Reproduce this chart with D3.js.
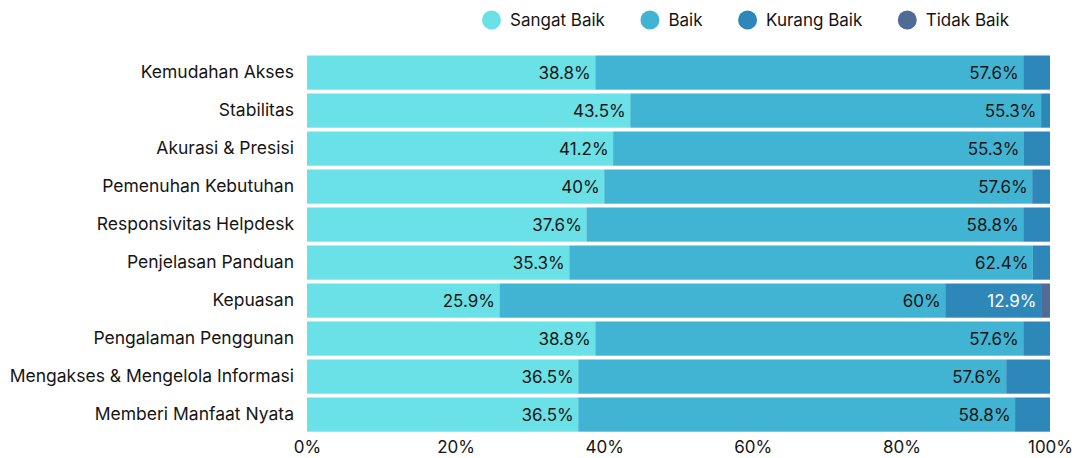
<!DOCTYPE html>
<html>
<head>
<meta charset="utf-8">
<script src="https://cdn.jsdelivr.net/npm/d3@7"></script>
<style>
  body { margin: 0; background: #fff; }
  svg text { font-family: Inter, "Noto Sans", sans-serif; fill: #151515; }
</style>
</head>
<body>
<div id="chart"></div>
<script>
// 100% stacked bar chart - survey results

const categories = [
  "Kemudahan Akses", "Stabilitas", "Akurasi & Presisi", "Pemenuhan Kebutuhan",
  "Responsivitas Helpdesk", "Penjelasan Panduan", "Kepuasan", "Pengalaman Penggunan",
  "Mengakses & Mengelola Informasi", "Memberi Manfaat Nyata"
];
const seriesNames = ["Sangat Baik", "Baik", "Kurang Baik", "Tidak Baik"];
const sangatBaik = [38.8, 43.5, 41.2, 40, 37.6, 35.3, 25.9, 38.8, 36.5, 36.5];
const baik       = [57.6, 55.3, 55.3, 57.6, 58.8, 62.4, 60, 57.6, 57.6, 58.8];
const kurangBaik = [3.6, 1.2, 3.5, 2.4, 3.6, 2.3, 12.9, 3.6, 5.9, 4.7];
const tidakBaik  = [0, 0, 0, 0, 0, 0, 1.2, 0, 0, 0];
const xTicks = [0, 20, 40, 60, 80, 100];

const colors = ["#6ae1e6", "#42b4d3", "#2e87b9", "#506b96"];

const [W, H] = [1079, 458];
const left = 307, right = 1050;

const rows = categories.map((c, i) => ({
  cat: c,
  "Sangat Baik": sangatBaik[i],
  "Baik": baik[i],
  "Kurang Baik": kurangBaik[i],
  "Tidak Baik": tidakBaik[i]
}));

const stacked = d3.stack().keys(seriesNames)(rows);

const x = d3.scaleLinear().domain([0, 100]).range([left, right]);
const y = d3.scaleBand().domain(categories).range([53.6, 433.6])
  .paddingInner(0.1).paddingOuter(0.05);
const color = d3.scaleOrdinal().domain(seriesNames).range(colors);

const svg = d3.select("#chart").append("svg")
  .attr("width", W).attr("height", H);

// bars
const groups = svg.selectAll("g.series").data(stacked).enter()
  .append("g").attr("class", "series")
  .attr("fill", d => color(d.key));

groups.selectAll("rect").data(d => d).enter().append("rect")
  .attr("x", d => x(d[0]))
  .attr("y", d => y(d.data.cat))
  .attr("width", d => x(d[1]) - x(d[0]))
  .attr("height", y.bandwidth());

// value labels (only segments wide enough)
const fmt = v => `${+v.toFixed(1)}%`;
groups.each(function(s) {
  d3.select(this).selectAll("text").data(s.filter(d => d[1] - d[0] >= 10)).enter()
    .append("text")
    .attr("x", d => x(d[1]) - 4.5)
    .attr("y", d => y(d.data.cat) + y.bandwidth() / 2)
    .attr("dy", "0.36em")
    .attr("text-anchor", "end")
    .style("font-size", "17px")
    .style("fill", s.key === "Kurang Baik" ? "#fff" : "#151515")
    .text(d => fmt(d[1] - d[0]));
});

// category axis
const yAxis = svg.append("g")
  .attr("transform", `translate(${left},0)`)
  .call(d3.axisLeft(y).tickSize(0).tickPadding(13));
yAxis.select(".domain").remove();
yAxis.selectAll("text").style("font-size", "17.5px").attr("font-family", null);

// percent axis
const xAxis = svg.append("g")
  .attr("transform", `translate(0,${y.range()[1] + 2})`)
  .call(d3.axisBottom(x).tickValues(xTicks).tickFormat(d => d + "%").tickSize(0).tickPadding(5));
xAxis.select(".domain").remove();
xAxis.selectAll("text").style("font-size", "17px").attr("font-family", null);

// legend
const legend = svg.append("g").attr("transform", "translate(0,20)");
let lx = 491.5;
seriesNames.forEach((name, i) => {
  const item = legend.append("g").attr("transform", `translate(${lx},0)`);
  item.append("circle").attr("r", 9.5).attr("fill", colors[i]);
  const t = item.append("text").attr("x", 18.5).attr("dy", "0.36em")
    .style("font-size", "17px").text(name);
  lx += 18.5 + t.node().getComputedTextLength() + 45;
});
</script>
</body>
</html>
